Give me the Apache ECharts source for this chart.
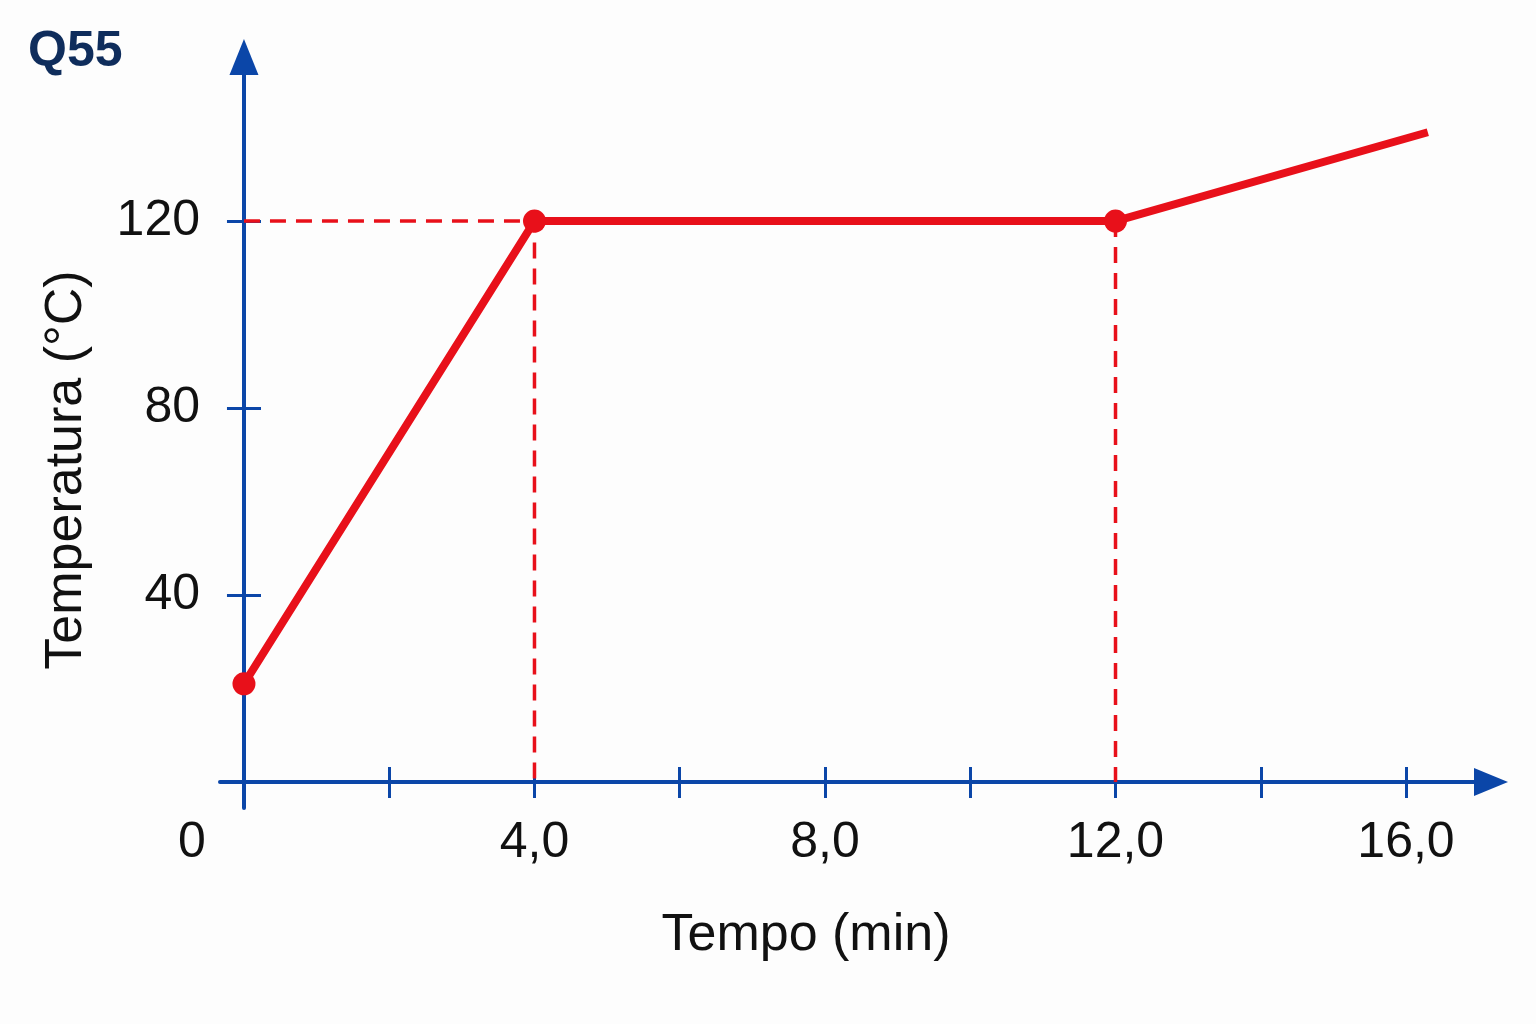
<!DOCTYPE html>
<html>
<head>
<meta charset="utf-8">
<script src="https://cdn.jsdelivr.net/npm/echarts@6/dist/echarts.min.js"></script>
<style>
  html, body { margin: 0; padding: 0; background: #fdfdfd; }
  #chart { width: 1536px; height: 1024px; }
</style>
</head>
<body>
<div id="chart"></div>
<script>
// dados do gráfico (tempo em min, temperatura em °C)
const times = [0, 4, 12, 16.3];
const temps = [21, 120, 120, 139];
const xTickValues = [0, 2, 4, 6, 8, 10, 12, 14, 16];
const xLabelValues = [0, 4, 8, 12, 16];
const xLabels = ['0', '4,0', '8,0', '12,0', '16,0'];
const yTickValues = [40, 80, 120];
const yLabels = ['40', '80', '120'];

const blue = '#0b46a8';
const red = '#e8101a';
const font = 'Liberation Sans';

let myChart = echarts.init(document.getElementById('chart'));

// linha principal, o último ponto sem marcador
const mainData = times.map((t, i) => i < times.length - 1 ? [t, temps[i]] : { value: [t, temps[i]], symbol: 'none' });

const dashStyle = { color: red, width: 3.5, type: [16, 10] };

myChart.setOption({
  backgroundColor: '#fdfdfd',
  animation: false,
  title: {
    text: 'Q55',
    left: 23, top: 22,
    textStyle: { fontFamily: font, fontSize: 50, fontWeight: 'bold', color: '#0f2d5c' }
  },
  grid: { left: 220, right: 45, top: 57, bottom: 216, outerBoundsMode: 'none' },
  xAxis: [
    {
      type: 'value', position: 'bottom',
      min: -0.33, max: 17.17,
      name: 'Tempo (min)', nameLocation: 'middle', nameGap: 102,
      nameTextStyle: { fontFamily: font, fontSize: 52, color: '#111', padding: [0, 99, 0, 0] },
      axisLine: { show: true, onZero: true, symbol: ['none', 'triangle'], symbolSize: [28, 34],
        lineStyle: { color: blue, width: 4 } },
      axisTick: { show: true, customValues: xTickValues, length: 16, lineStyle: { color: blue, width: 3 } },
      axisLabel: {
        customValues: xLabelValues, margin: 10,
        fontFamily: font, fontSize: 50, color: '#111',
        formatter: v => {
          const s = xLabels[xLabelValues.indexOf(v)];
          return v === 0 ? '{z|' + s + '}' : s;
        },
        rich: { z: { fontFamily: font, fontSize: 50, color: '#111', padding: [0, 104, 0, 0] } }
      },
      splitLine: { show: false }
    },
    {
      // ticks do lado de dentro (cruzando o eixo)
      type: 'value', position: 'bottom', offset: -26,
      min: -0.33, max: 17.17,
      axisLine: { show: false, onZero: false },
      axisTick: { show: true, inside: true, customValues: xTickValues, length: 15, lineStyle: { color: blue, width: 3 } },
      axisLabel: { show: false },
      splitLine: { show: false }
    }
  ],
  yAxis: [
    {
      type: 'value', position: 'left',
      min: -5.56, max: 155.1,
      name: 'Temperatura (°C)', nameLocation: 'middle', nameGap: 127,
      nameTextStyle: { fontFamily: font, fontSize: 52, color: '#111', padding: [0, 75, 0, 0] },
      axisLine: { show: true, onZero: true, symbol: ['none', 'triangle'], symbolSize: [29, 36],
        lineStyle: { color: blue, width: 4 } },
      axisTick: { show: true, customValues: yTickValues, length: 17, lineStyle: { color: blue, width: 3 } },
      axisLabel: {
        customValues: yTickValues, margin: 20,
        fontFamily: font, fontSize: 50, color: '#111',
        formatter: v => yLabels[yTickValues.indexOf(v)]
      },
      splitLine: { show: false }
    },
    {
      type: 'value', position: 'left', offset: -24,
      min: -5.56, max: 155.1,
      axisLine: { show: false, onZero: false },
      axisTick: { show: true, inside: true, customValues: yTickValues, length: 17, lineStyle: { color: blue, width: 3 } },
      axisLabel: { show: false },
      splitLine: { show: false }
    }
  ],
  series: [
    {
      type: 'line', z: 1, symbol: 'none', silent: true,
      data: [[0, temps[1]], [times[1], temps[1]], [times[1], 0]],
      lineStyle: dashStyle
    },
    {
      type: 'line', z: 1, symbol: 'none', silent: true,
      data: [[times[2], temps[2]], [times[2], 0]],
      lineStyle: dashStyle
    },
    {
      type: 'line', z: 3,
      data: mainData,
      symbol: 'circle', symbolSize: 23,
      itemStyle: { color: red },
      lineStyle: { color: red, width: 8 }
    }
  ]
});
</script>
</body>
</html>
